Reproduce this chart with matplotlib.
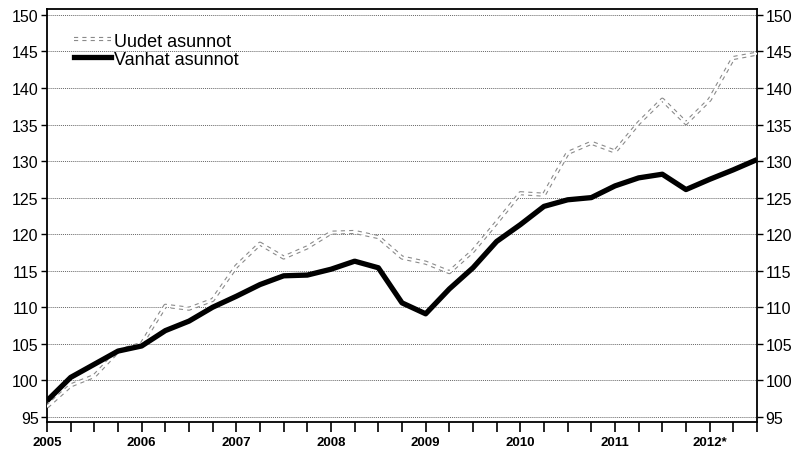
import matplotlib
matplotlib.use("Agg")
import matplotlib.pyplot as plt
from matplotlib.lines import Line2D
from matplotlib.legend_handler import HandlerTuple
import numpy as np

# quarterly index, 2005Q1 .. 2012Q3
years = ["2005", "2006", "2007", "2008", "2009", "2010", "2011", "2012*"]

uudet = [96.4, 99.3, 100.6, 104.0, 105.0, 110.2, 109.8, 111.0,
         115.6, 118.7, 116.8, 118.2, 120.2, 120.3, 119.6, 116.8,
         116.1, 114.8, 117.7, 121.6, 125.6, 125.4, 131.1, 132.5,
         131.3, 135.2, 138.4, 135.2, 138.4, 144.1, 144.7]

vanhat = [97.2, 100.4, 102.2, 104.0, 104.7, 106.8, 108.1, 110.0,
          111.5, 113.1, 114.3, 114.4, 115.2, 116.3, 115.4, 110.6,
          109.1, 112.5, 115.4, 119.0, 121.3, 123.8, 124.7, 125.0,
          126.6, 127.7, 128.2, 126.1, 127.5, 128.8, 130.2]

plt.rcParams['font.family'] = ['Liberation Sans', 'DejaVu Sans']

fig = plt.figure(figsize=(7.98, 4.56), dpi=100)
ax = fig.add_axes([0.0589, 0.0724, 0.8897, 0.9056])

x = np.arange(len(vanhat))

# gray "double" line for new dwellings
ax.plot(x, uudet, color='#8a8a8a', lw=3.0, linestyle=(0, (1, 1)), zorder=3,
        solid_joinstyle='round')
ax.plot(x, uudet, color='white', lw=1.4, zorder=3.1, solid_joinstyle='round')
ax.plot(x, vanhat, color='black', lw=3.8, zorder=4, solid_capstyle='butt',
        solid_joinstyle='round')

ax.set_xlim(0, len(x) - 1)
ax.set_ylim(94.3, 150.8)

ax.set_yticks(np.arange(95, 151, 5))
ax.yaxis.grid(True, color='#666666', linestyle=(0, (1, 1)), lw=0.7)
ax.tick_params(axis='y', which='both', direction='out', length=4, width=1,
               labelsize=11.5, left=True, right=True, labelleft=True, labelright=True, pad=2)

ax.set_xticks(np.arange(0, len(x), 4))
ax.set_xticklabels(years, fontsize=9.5, fontweight='bold')
ax.set_xticks(np.arange(0, len(x)), minor=True)
ax.tick_params(axis='x', which='both', direction='out', length=7, width=1.2, pad=3)

for s in ax.spines.values():
    s.set_linewidth(1.3)

# legend handles
h1 = (Line2D([], [], color='#8a8a8a', lw=3.0, linestyle=(0, (1, 1))),
      Line2D([], [], color='white', lw=1.4))
h2 = Line2D([], [], color='black', lw=3.8)
ax.legend([h1, h2], ['Uudet asunnot', 'Vanhat asunnot'],
          handler_map={tuple: HandlerTuple(ndivide=1)},
          loc='upper left', bbox_to_anchor=(0.028, 0.96), frameon=False,
          fontsize=13, handlelength=2.05, handletextpad=0.15, labelspacing=0.05,
          borderaxespad=0)

fig.savefig('out.png', dpi=100)
